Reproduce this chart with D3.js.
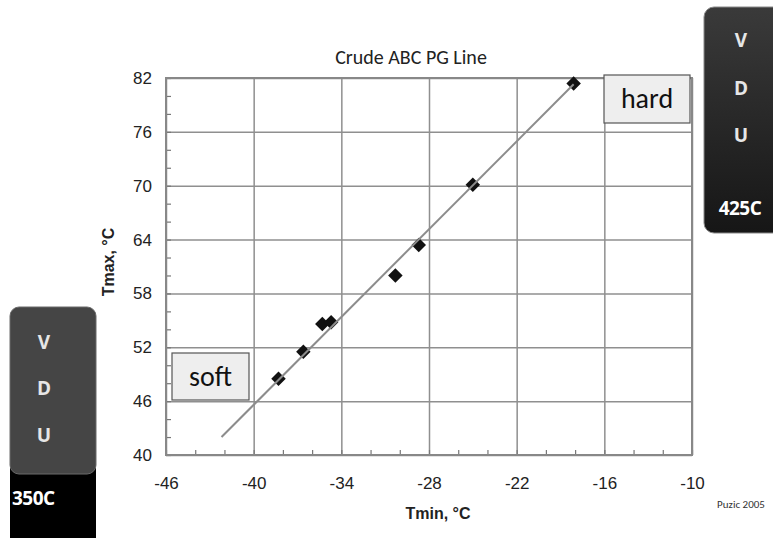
<!DOCTYPE html>
<html>
<head>
<meta charset="utf-8">
<script src="https://cdn.jsdelivr.net/npm/d3@7"></script>
<style>
  html, body { margin: 0; padding: 0; background: #fff; }
  svg { display: block; }
</style>
</head>
<body>
<svg id="chart" width="773" height="538"></svg>
<script>
// Measured points: Tmin vs Tmax (°C)
const tmin = [-38.3, -36.6, -35.3, -34.7, -30.3, -28.7, -25.0, -18.1];
const tmax = [48.5, 51.5, 54.6, 54.8, 60.0, 63.4, 70.1, 81.4];
// Fitted line end points (Tmin, Tmax)
const fitTmin = [-42.2, -18.1];
const fitTmax = [42.0, 81.3];
// Axis ticks
const xTicks = [-46, -40, -34, -28, -22, -16, -10];
const yTicks = [40, 46, 52, 58, 64, 70, 76, 82];
const xMinor = d3.range(-46, -9, 2);
const yMinor = d3.range(40, 83, 2);
const title = "Crude ABC PG Line";

const svg = d3.select("#chart");
const L = 166, R = 692, T = 78, B = 455;
const x = d3.scaleLinear().domain([-46, -10]).range([L, R]);
const y = d3.scaleLinear().domain([40, 82]).range([B, T]);

const sans = "'Liberation Sans', Arial, sans-serif";
const soft = "Carlito, Lato, 'Open Sans', sans-serif";
const vduFont = "'Open Sans', sans-serif";
const plain = d => String(d);

// ---------- VDU side panels ----------
const defs = svg.append("defs");
const g1 = defs.append("linearGradient").attr("id", "vduR").attr("x1", 0).attr("y1", 0).attr("x2", 0).attr("y2", 1);
g1.append("stop").attr("offset", "0%").attr("stop-color", "#3a3a3a");
g1.append("stop").attr("offset", "100%").attr("stop-color", "#161616");

// left panel (350C)
svg.append("rect").attr("x", 10).attr("y", 410).attr("width", 86).attr("height", 140)
  .attr("rx", 9).attr("fill", "#000");
svg.append("rect").attr("x", 10).attr("y", 307).attr("width", 86).attr("height", 167)
  .attr("rx", 9).attr("fill", "#454545").attr("stroke", "#6a6a6a").attr("stroke-width", 1);
const leftLetters = [["V", 342], ["D", 388], ["U", 435]];
leftLetters.forEach(([t, yy]) => svg.append("text").attr("x", 44).attr("y", yy + 7)
  .attr("text-anchor", "middle").attr("font-family", vduFont)
  .attr("font-weight", "bold").attr("font-size", 19).attr("fill", "#e6e6e6").text(t));
svg.append("text").attr("x", 12).attr("y", 505).attr("font-family", vduFont)
  .attr("font-weight", "bold").attr("font-size", 19).attr("letter-spacing", -0.5)
  .attr("fill", "#fff").text("350C");

// right panel (425C)
svg.append("rect").attr("x", 704).attr("y", 7).attr("width", 90).attr("height", 226)
  .attr("rx", 10).attr("fill", "url(#vduR)").attr("stroke", "#888").attr("stroke-width", 1);
const rightLetters = [["V", 40], ["D", 88], ["U", 135]];
rightLetters.forEach(([t, yy]) => svg.append("text").attr("x", 741).attr("y", yy + 7)
  .attr("text-anchor", "middle").attr("font-family", vduFont)
  .attr("font-weight", "bold").attr("font-size", 19).attr("fill", "#e6e6e6").text(t));
svg.append("text").attr("x", 740).attr("y", 215).attr("text-anchor", "middle")
  .attr("font-family", vduFont).attr("letter-spacing", -0.5)
  .attr("font-weight", "bold").attr("font-size", 19).attr("fill", "#fff").text("425C");

// ---------- plot area ----------
const plot = svg.append("g");

// gridlines
plot.append("g").attr("transform", `translate(0,${B})`)
  .call(d3.axisBottom(x).tickValues(xTicks).tickSize(-(B - T)).tickFormat(""))
  .call(g => g.select(".domain").remove())
  .call(g => g.selectAll("line").attr("stroke", "#8f8f8f").attr("stroke-width", 1.5));
plot.append("g").attr("transform", `translate(${L},0)`)
  .call(d3.axisLeft(y).tickValues(yTicks).tickSize(-(R - L)).tickFormat(""))
  .call(g => g.select(".domain").remove())
  .call(g => g.selectAll("line").attr("stroke", "#8f8f8f").attr("stroke-width", 1.5));

// minor inward ticks
plot.append("g").attr("transform", `translate(0,${B})`)
  .call(d3.axisBottom(x).tickValues(xMinor).tickSize(-5).tickFormat(""))
  .call(g => g.select(".domain").remove())
  .call(g => g.selectAll("line").attr("stroke", "#777").attr("stroke-width", 1.2));
plot.append("g").attr("transform", `translate(${L},0)`)
  .call(d3.axisLeft(y).tickValues(yMinor).tickSize(-5).tickFormat(""))
  .call(g => g.select(".domain").remove())
  .call(g => g.selectAll("line").attr("stroke", "#777").attr("stroke-width", 1.2));

// frame
plot.append("rect").attr("x", L).attr("y", T).attr("width", R - L).attr("height", B - T)
  .attr("fill", "none").attr("stroke", "#888").attr("stroke-width", 2);

// tick labels
plot.append("g").attr("transform", `translate(0,${B})`)
  .call(d3.axisBottom(x).tickValues(xTicks).tickSize(0).tickPadding(22).tickFormat(plain))
  .call(g => g.select(".domain").remove())
  .call(g => g.selectAll("text").attr("font-family", sans).attr("font-size", 17).attr("fill", "#222"));
plot.append("g").attr("transform", `translate(${L},0)`)
  .call(d3.axisLeft(y).tickValues(yTicks).tickSize(0).tickPadding(14).tickFormat(plain))
  .call(g => g.select(".domain").remove())
  .call(g => g.selectAll("text").attr("font-family", sans).attr("font-size", 17).attr("fill", "#222"));

// data points (diamonds)
const pts = tmin.map((v, i) => [v, tmax[i]]);
plot.selectAll(".pt").data(pts).enter().append("path")
  .attr("class", "pt")
  .attr("d", d3.symbol().type(d3.symbolSquare).size(105))
  .attr("transform", d => `translate(${x(d[0])},${y(d[1])}) rotate(45)`)
  .attr("fill", "#111");

// fitted line
const fit = fitTmin.map((v, i) => [v, fitTmax[i]]);
plot.append("path").datum(fit)
  .attr("d", d3.line().x(d => x(d[0])).y(d => y(d[1])))
  .attr("stroke", "#8c8c8c").attr("stroke-width", 2).attr("fill", "none");

// annotation boxes
function noteBox(bx, by, w, h, label, base) {
  svg.append("rect").attr("x", bx).attr("y", by).attr("width", w).attr("height", h)
    .attr("fill", "#eeeeee").attr("stroke", "#555").attr("stroke-width", 1.2);
  svg.append("text").attr("x", bx + w / 2).attr("y", base).attr("text-anchor", "middle")
    .attr("font-family", soft).attr("font-size", 28).attr("fill", "#111").text(label);
}
noteBox(604, 75, 86, 48, "hard", 108);
noteBox(172, 353, 77, 47, "soft", 386);

// titles
svg.append("text").attr("x", 411).attr("y", 64).attr("text-anchor", "middle")
  .attr("font-family", soft).attr("font-size", 20).attr("fill", "#222").text(title);
svg.append("text").attr("x", 438).attr("y", 519).attr("text-anchor", "middle")
  .attr("font-family", sans).attr("font-weight", "bold").attr("font-size", 16).attr("fill", "#222")
  .text("Tmin, °C");
svg.append("text").attr("transform", "translate(114,262) rotate(-90)").attr("text-anchor", "middle")
  .attr("font-family", sans).attr("font-weight", "bold").attr("font-size", 16).attr("fill", "#222")
  .text("Tmax, °C");
svg.append("text").attr("x", 741).attr("y", 508).attr("text-anchor", "middle")
  .attr("font-family", soft).attr("font-size", 11).attr("fill", "#333").text("Puzic 2005");
</script>
</body>
</html>
